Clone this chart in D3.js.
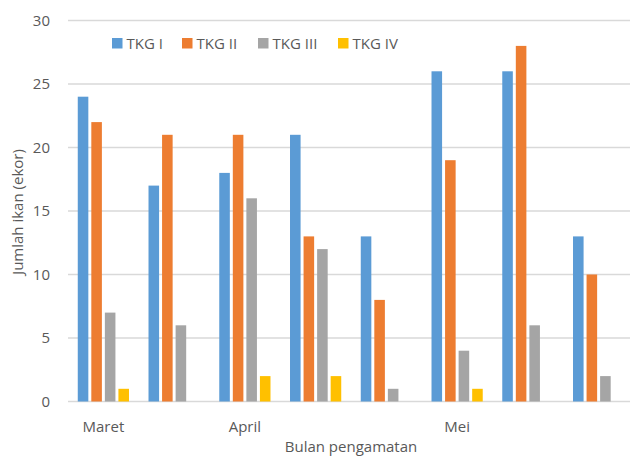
<!DOCTYPE html>
<html><head><meta charset="utf-8">
<script src="https://cdn.jsdelivr.net/npm/d3@7"></script>
<style>body{margin:0;background:#fff}svg{display:block}text{font-family:"Open Sans",Lato,sans-serif;fill:#595959}</style>
</head><body><svg id="c" width="630" height="457"></svg>
<script>
const groups = ["g1","g2","g3","g4","g5","g6","g7","g8"];
const groupLabels = ["Maret","","April","","","Mei","",""];
const seriesNames = ["TKG I","TKG II","TKG III","TKG IV"];
const tkg1 = [24,17,18,21,13,26,26,13];
const tkg2 = [22,21,21,13,8,19,28,10];
const tkg3 = [7,6,16,12,1,4,6,2];
const tkg4 = [1,0,2,2,0,1,0,0];
const colors = ["#5B9BD5","#ED7D31","#A5A5A5","#FFC000"];
const yTicks = [0,5,10,15,20,25,30];

const series = [tkg1,tkg2,tkg3,tkg4];
const svg = d3.select("#c");
const L=68, R=634, T=20.5, B=401.5;
const x0 = d3.scaleBand().domain(groups).range([L,R]).paddingInner(0.276).paddingOuter(0.138);
const x1 = d3.scaleBand().domain(seriesNames).range([0,x0.bandwidth()]).paddingInner(0.22).paddingOuter(0);
const y = d3.scaleLinear().domain([0,30]).range([B,T]);

// grid
svg.append("g").selectAll("line").data(yTicks).join("line")
  .attr("x1",L).attr("x2",630).attr("y1",d=>y(d)).attr("y2",d=>y(d))
  .attr("stroke","#D9D9D9").attr("stroke-width",1.3);
// y tick labels
svg.append("g").selectAll("text").data(yTicks).join("text")
  .attr("x",50).attr("y",d=>y(d)).attr("dy","0.35em").attr("text-anchor","end")
  .attr("font-size",15).text(d=>d);

// bars
const gs = svg.append("g").selectAll("g").data(groups).join("g")
  .attr("transform",d=>`translate(${x0(d)},0)`);
gs.selectAll("rect").data((d,i)=>seriesNames.map((s,k)=>({s,k,v:series[k][i]}))).join("rect")
  .attr("x",d=>x1(d.s)).attr("width",x1.bandwidth())
  .attr("y",d=>y(d.v)).attr("height",d=>y(0)-y(d.v))
  .attr("fill",d=>colors[d.k]);

// x labels
svg.append("g").selectAll("text").data(groups).join("text")
  .attr("x",d=>x0(d)+x0.bandwidth()/2).attr("y",432).attr("text-anchor","middle")
  .attr("font-size",15).text((d,i)=>groupLabels[i]);

// axis titles
svg.append("text").attr("x",351).attr("y",452).attr("text-anchor","middle").attr("font-size",15).text("Bulan pengamatan");
svg.append("text").attr("transform","translate(23,212) rotate(-90)").attr("text-anchor","middle").attr("font-size",15).text("Jumlah ikan (ekor)");

// legend
const legX = [112,182,258,338];
const lg = svg.append("g").selectAll("g").data(seriesNames).join("g")
  .attr("transform",(d,i)=>`translate(${legX[i]},38)`);
lg.append("rect").attr("width",10.5).attr("height",10.5).attr("fill",(d,i)=>colors[i]);
lg.append("text").attr("x",14.5).attr("y",5.5).attr("dy","0.35em").attr("font-size",15).text(d=>d);
</script></body></html>
